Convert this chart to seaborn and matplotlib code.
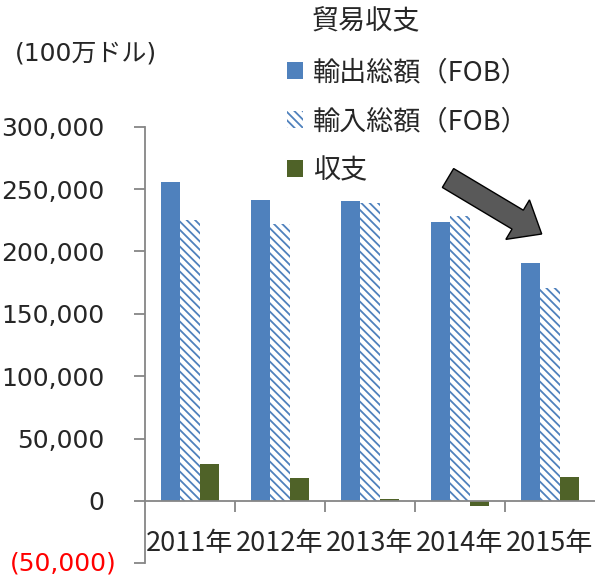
import pandas as pd
import matplotlib.pyplot as plt
import seaborn as sns
from matplotlib.patches import FancyArrow
from matplotlib.ticker import FuncFormatter, FixedLocator

# data (100万ドル)
years = ["2011年", "2012年", "2013年", "2014年", "2015年"]
exports = [256000, 241500, 240700, 224000, 190700]
imports = [225600, 222400, 238800, 228700, 170900]
balance = [29300, 18400, 1600, -4200, 18900]
series = ["輸出総額（FOB）", "輸入総額（FOB）", "収支"]
colors = ["#4F81BD", "#FFFFFF", "#4F6228"]
yticks = [-50000, 0, 50000, 100000, 150000, 200000, 250000, 300000]

df = pd.DataFrame({
    "year": years * 3,
    "series": [s for s in series for _ in years],
    "value": exports + imports + balance,
})

sns.set_style("white")
plt.rcParams["font.family"] = ["DejaVu Sans", "Noto Sans CJK JP"]
plt.rcParams["hatch.linewidth"] = 1.3
jp = "Noto Sans CJK JP"
gray = "#868686"

fig = plt.figure(figsize=(5.95, 5.8), dpi=100)
ax = fig.add_axes([145 / 595, 16.7 / 580, 450 / 595, 436.6 / 580])

sns.barplot(data=df, x="year", y="value", hue="series", hue_order=series,
            palette=colors, saturation=1, width=0.65, errorbar=None,
            legend=False, ax=ax)

# import bars: white with blue diagonal hatch
for i, cont in enumerate(ax.containers):
    cont.set_label(series[i])
    for p in cont:
        p.set_linewidth(0)
        if i == 1:
            p.set_facecolor("white")
            p.set_edgecolor(colors[0])
            p.set_hatch("\\\\\\\\")

ax.set_xlim(-0.5, len(years) - 0.5)
ax.set_ylim(yticks[0], yticks[-1])
ax.yaxis.set_major_locator(FixedLocator(yticks))
# negative tick label is drawn separately (red, in parentheses, hanging ")")
ax.yaxis.set_major_formatter(FuncFormatter(
    lambda v, p: "" if v < 0 else f"{v:,.0f}"))
ax.tick_params(axis="y", left=True, direction="out", length=8, width=1.3,
               color=gray, pad=21, labelsize=18)
ax.text(-28 / 450, yticks[0], f"({-yticks[0]:,.0f})", color="red",
        fontsize=18, ha="right", va="center",
        transform=ax.get_yaxis_transform(), clip_on=False)

ax.spines["bottom"].set_position(("data", 0))
for s in ["top", "right"]:
    ax.spines[s].set_visible(False)
for s in ["left", "bottom"]:
    ax.spines[s].set_color(gray)
    ax.spines[s].set_linewidth(1.3)

ax.set_xticks(range(len(years)), years, family=jp, fontsize=19.5)
ax.set_xticks([i + 0.5 for i in range(len(years) - 1)], minor=True)
ax.tick_params(axis="x", which="major", bottom=False, length=0, pad=21)
ax.tick_params(axis="x", which="minor", bottom=True, direction="out",
               length=8, width=1.3, color=gray)
ax.set_xlabel("")
ax.set_ylabel("")

fig.legend(handles=ax.containers, labels=series, loc="upper left",
           bbox_to_anchor=(287 / 595, 1 - 59 / 580), frameon=False,
           prop={"family": jp, "size": 19.5}, handlelength=0.6,
           handleheight=0.6, handletextpad=0.35, labelspacing=0.82,
           borderpad=0, borderaxespad=0)

fig.text(366 / 595, 1 - 22 / 580, "貿易収支", ha="center", va="center",
         family=jp, fontsize=19.5)
fig.text(15 / 595, 1 - 53 / 580, "(100万ドル)", ha="left", va="center",
         fontsize=18)

# big downward arrow
arrow = FancyArrow(4.48, 5.8 - 1.78, 0.937, -0.56, width=0.22,
                   head_width=0.46, head_length=0.28,
                   length_includes_head=True, facecolor="#595959",
                   edgecolor="black", linewidth=1,
                   transform=fig.dpi_scale_trans)
fig.add_artist(arrow)

fig.savefig("out.png", dpi=100)
